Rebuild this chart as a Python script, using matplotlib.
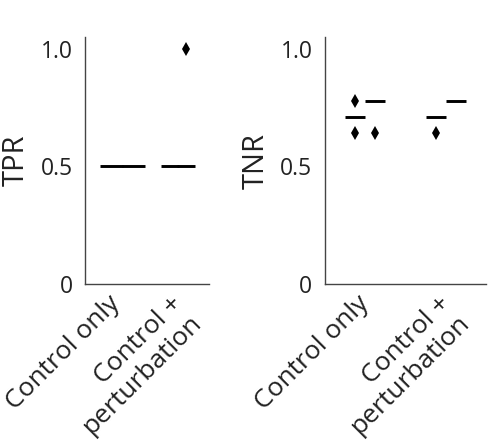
import matplotlib
matplotlib.use("Agg")
import matplotlib.pyplot as plt
from matplotlib.transforms import ScaledTranslation

plt.rcParams['font.family'] = ['Open Sans', 'DejaVu Sans']

categories = ["Control only", "Control +\nperturbation"]

# TPR per category, two groups each
tpr_control_a = [0.5, 0.5, 0.5, 0.5, 0.5, 0.5]
tpr_control_b = [0.5, 0.5, 0.5, 0.5, 0.5, 0.5]
tpr_pert_a = [0.5, 0.5, 0.5, 0.5, 0.5, 0.5]
tpr_pert_b = [0.5, 0.5, 0.5, 0.5, 0.5, 1.0]

# TNR per category, two groups each
tnr_control_a = [0.64, 0.71, 0.71, 0.71, 0.71, 0.78]
tnr_control_b = [0.64, 0.78, 0.78, 0.78, 0.78, 0.78]
tnr_pert_a = [0.64, 0.71, 0.71, 0.71, 0.71, 0.71]
tnr_pert_b = [0.78, 0.78, 0.78, 0.78, 0.78, 0.78]

yticks = [0, 0.5, 1.0]
ytick_labels = ["0", "0.5", "1.0"]

fig = plt.figure(figsize=(4.96, 4.45), dpi=100)
ax1 = fig.add_axes([0.1714, 0.3618, 0.25, 0.555])
ax2 = fig.add_axes([0.6552, 0.3618, 0.3246, 0.555])

text_color = '#222222'
spine_color = '#444444'

def draw(ax, groups, positions, widths, ylabel):
    ax.boxplot(groups, positions=positions, widths=widths,
               whis=1.5, showcaps=False, manage_ticks=False,
               patch_artist=True,
               boxprops=dict(facecolor='none', edgecolor='none', linewidth=0),
               medianprops=dict(color='black', linewidth=2.1, solid_capstyle='butt'),
               whiskerprops=dict(linewidth=0),
               flierprops=dict(marker='d', markerfacecolor='black',
                               markeredgecolor='black', markersize=7.5,
                               markeredgewidth=0))
    ax.set_xlim(-0.5, 1.5)
    ax.set_ylim(0, 1.05)
    ax.set_yticks(yticks)
    ax.set_yticklabels(ytick_labels)
    ax.set_xticks([0, 1])
    ax.set_xticklabels(categories, rotation=45, ha='right',
                       rotation_mode='anchor', linespacing=1.15)
    ax.tick_params(axis='both', length=0, colors=text_color)
    ax.tick_params(axis='y', pad=9, labelsize=16.5)
    ax.tick_params(axis='x', pad=5, labelsize=19)
    for s in ['top', 'right']:
        ax.spines[s].set_visible(False)
    for s in ['left', 'bottom']:
        ax.spines[s].set_color(spine_color)
        ax.spines[s].set_linewidth(1.0)
    ax.set_ylabel(ylabel, fontsize=21, color=text_color, labelpad=7)
    shift = ScaledTranslation(-6 / 72, 0, fig.dpi_scale_trans)
    for lbl in ax.get_xticklabels():
        lbl.set_transform(lbl.get_transform() + shift)

draw(ax1, [tpr_control_a, tpr_control_b, tpr_pert_a, tpr_pert_b],
     [-0.075, 0.28, 0.871, 1.129], [0.36, 0.36, 0.275, 0.275], "TPR")
draw(ax2, [tnr_control_a, tnr_control_b, tnr_pert_a, tnr_pert_b],
     [-0.125, 0.125, 0.875, 1.125], [0.25, 0.25, 0.25, 0.25], "TNR")

fig.savefig("out.png", dpi=100)
